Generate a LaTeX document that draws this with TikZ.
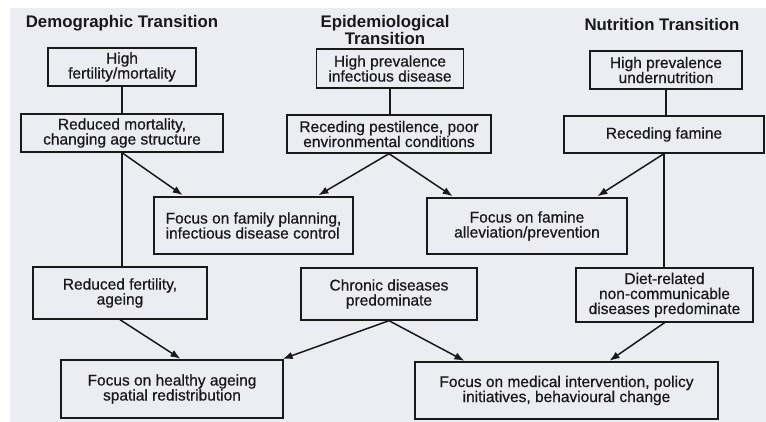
\documentclass[tikz,border=0pt]{standalone}
\usepackage{fontspec}
\setmainfont{Liberation Sans}
\newfontfamily\scanfont[FakeBold=0.6]{Liberation Sans}
\usetikzlibrary{arrows.meta}
\definecolor{scan}{RGB}{236,236,243}
\definecolor{ink}{RGB}{25,25,25}

\begin{document}
\begin{tikzpicture}[x=1pt, y=-1pt, >={Latex[length=10pt, width=7.5pt]},
        box/.style={draw=ink, line width=1.4pt, align=center, inner sep=2pt, text=ink,
            font=\scanfont\fontsize{15.5}{15}\selectfont},
        heading/.style={align=center, text=ink, font=\bfseries\fontsize{16.8}{17}\selectfont},
        link/.style={draw=ink, line width=1.5pt}]
             %\draw[lightgray] (0, 0) grid[step=50] (766, 422);
             \useasboundingbox (0, 0) rectangle (766, 422);
             \fill[white] (0, 0) rectangle (766, 422);
             \fill[scan] (10, 8) rectangle (766, 422);

             \node[heading] (demo) at (122, 23) {Demographic Transition};
             \node[heading] (epi) at (385, 30) {Epidemiological\\Transition};
             \node[heading] (nutr) at (662, 24) {Nutrition Transition};

             \node[box, minimum width=148, minimum height=38] (a1) at (122, 67) {High\\fertility/mortality};
             \node[box, minimum width=202, minimum height=38] (a2) at (122, 133) {Reduced mortality,\\changing age structure};
             \node[box, minimum width=147, minimum height=39] (b1) at (390, 68.5) {High prevalence\\infectious disease};
             \node[box, minimum width=204, minimum height=38] (b2) at (389, 134) {Receding pestilence, poor\\environmental conditions};
             \node[box, minimum width=152, minimum height=38] (c1) at (666, 70) {High prevalence\\undernutrition};
             \node[box, minimum width=200, minimum height=37] (c2) at (664, 134.5) {Receding famine};

             \node[box, align=left, minimum width=199, minimum height=57] (f1) at (253.5, 225.5) {Focus on family planning,\\infectious disease control};
             \node[box, minimum width=200, minimum height=56] (f2) at (527, 226) {Focus on famine\\alleviation/prevention};

             \node[box, minimum width=174, minimum height=52] (a3) at (120, 293) {Reduced fertility,\\ageing};
             \node[box, minimum width=176, minimum height=52] (b3) at (389, 294) {Chronic diseases\\predominate};
             \node[box, minimum width=177, minimum height=54] (c3) at (664.5, 295) {Diet-related\\non-communicable\\diseases predominate};

             \node[box, minimum width=222, minimum height=58] (g1) at (172, 389) {Focus on healthy ageing\\spatial redistribution};
             \node[box, minimum width=303, minimum height=57] (g2) at (566.5, 390.5) {Focus on medical intervention, policy\\initiatives, behavioural change};

             \draw[link] (a1.south) -- (a2.north);
             \draw[link] (b1.south) -- (b1.south |- b2.north);
             \draw[link] (c1.south) -- (c1.south |- c2.north);
             \draw[link] (a2.south) -- (a2.south |- a3.north);
             \draw[link] (c2.south) -- (c2.south |- c3.north);

             \draw[link, ->, shorten >=2pt] (a2.south) -- ([xshift=31pt]f1.north west);
             \draw[link, ->, shorten >=2pt] (b2.south) -- ([xshift=-37pt]f1.north east);
             \draw[link, ->, shorten >=2pt] (b2.south) -- ([xshift=28pt]f2.north west);
             \draw[link, ->, shorten >=2pt] (c2.south) -- ([xshift=-32pt]f2.north east);

             \draw[link, ->, shorten >=1pt] (a3.south) -- ([xshift=121pt]g1.north west);
             \draw[link, ->, shorten >=1pt] (b3.south) -- ([xshift=-2pt]g1.north east);
             \draw[link, ->, shorten >=1pt] (b3.south) -- ([xshift=51pt]g2.north west);
             \draw[link, ->, shorten >=1pt] (c3.south) -- ([xshift=-110pt]g2.north east);
         \end{tikzpicture}
\end{document}
